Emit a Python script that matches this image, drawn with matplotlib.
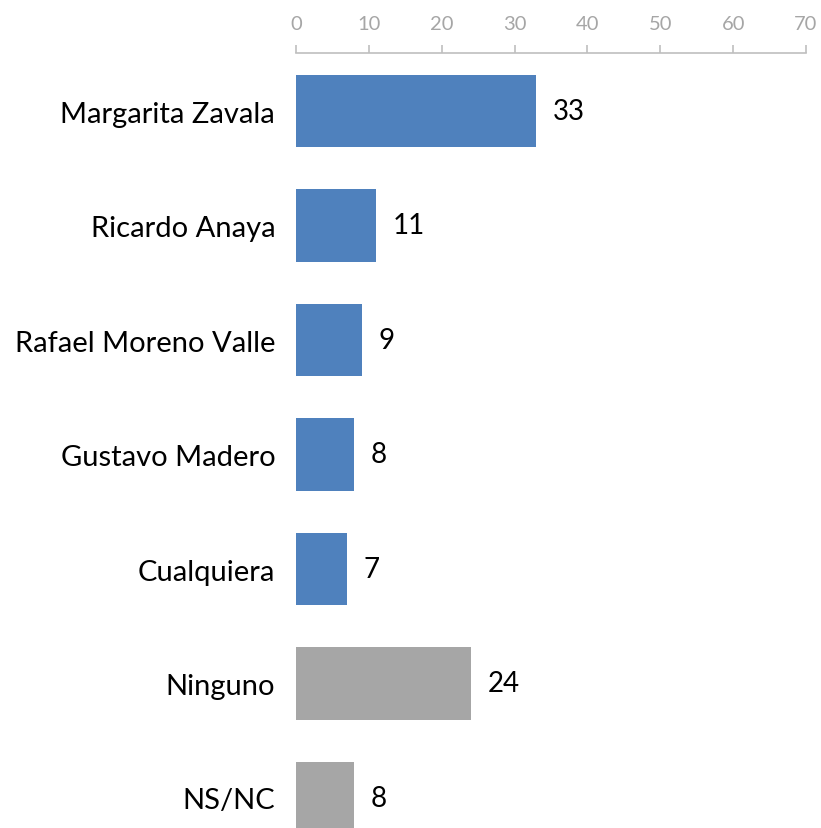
import matplotlib.pyplot as plt

categories = ['Margarita Zavala', 'Ricardo Anaya', 'Rafael Moreno Valle',
              'Gustavo Madero', 'Cualquiera', 'Ninguno', 'NS/NC']
values = [33, 11, 9, 8, 7, 24, 8]
colors = ['#4F81BD'] * 5 + ['#A6A6A6'] * 2
ticks = [0, 10, 20, 30, 40, 50, 60, 70]

plt.rcParams['font.family'] = ['Lato', 'DejaVu Sans']

W, H = 821, 829
fig = plt.figure(figsize=(W / 100, H / 100), dpi=100)
left, right, top, bottom = 296, 806, 54, 829
ax = fig.add_axes([left / W, 1 - bottom / H, (right - left) / W, (bottom - top) / H])

pos = list(range(len(categories)))
ax.barh(pos, values, height=0.63, color=colors)
ax.set_xlim(0, 70)
ax.set_ylim(6 + (829 - 799) / 114.5, -(112 - 54) / 114.5)

ax.xaxis.tick_top()
ax.set_xticks(ticks)
ax.set_xticklabels([str(t) for t in ticks], fontsize=14.5, color='#A6A6A6')
ax.tick_params(axis='x', length=6, width=1.2, color='#BFBFBF', pad=9)
ax.set_yticks(pos)
ax.set_yticklabels(categories, fontsize=21)
ax.tick_params(axis='y', length=0, pad=15)

for s in ['right', 'bottom', 'left']:
    ax.spines[s].set_visible(False)
ax.spines['top'].set_color('#BFBFBF')
ax.spines['top'].set_linewidth(1.2)

for p, v in zip(pos, values):
    ax.annotate(str(v), (v, p), xytext=(12, 0), textcoords='offset points',
                va='center', ha='left', fontsize=20)

fig.savefig('out.png', dpi=100)
